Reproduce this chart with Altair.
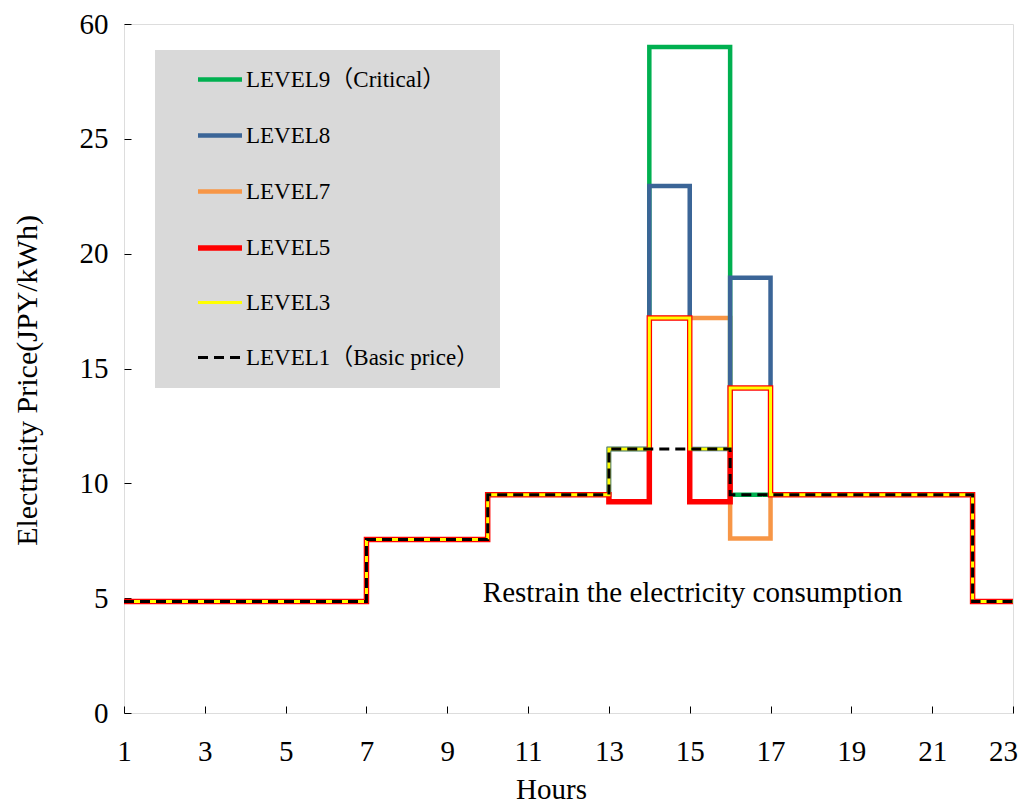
import altair as alt
import pandas as pd

# ---- data -------------------------------------------------------------
hours = [1, 2, 3, 4, 5, 6, 7, 8, 9, 10, 11, 12, 13, 14, 15, 16, 17, 18, 19, 20, 21, 22, 23]

level9 = [4.85, 4.85, 4.85, 4.85, 4.85, 4.85, 7.55, 7.55, 7.55, 9.5, 9.5, 9.5,
          11.5, 29.0, 29.0, 9.5, 9.5, 9.5, 9.5, 9.5, 9.5, 4.85, 4.85]
level8 = [4.85, 4.85, 4.85, 4.85, 4.85, 4.85, 7.55, 7.55, 7.55, 9.5, 9.5, 9.5,
          11.5, 22.95, 11.5, 18.95, 9.5, 9.5, 9.5, 9.5, 9.5, 4.85, 4.85]
level7 = [4.85, 4.85, 4.85, 4.85, 4.85, 4.85, 7.55, 7.55, 7.55, 9.5, 9.5, 9.5,
          11.5, 17.2, 17.2, 7.6, 9.5, 9.5, 9.5, 9.5, 9.5, 4.85, 4.85]
level5 = [4.85, 4.85, 4.85, 4.85, 4.85, 4.85, 7.55, 7.55, 7.55, 9.5, 9.5, 9.5,
          9.2, 17.2, 9.2, 14.15, 9.5, 9.5, 9.5, 9.5, 9.5, 4.85, 4.85]
level3 = [4.85, 4.85, 4.85, 4.85, 4.85, 4.85, 7.55, 7.55, 7.55, 9.5, 9.5, 9.5,
          11.5, 17.2, 11.5, 14.15, 9.5, 9.5, 9.5, 9.5, 9.5, 4.85, 4.85]
level1 = [4.85, 4.85, 4.85, 4.85, 4.85, 4.85, 7.55, 7.55, 7.55, 9.5, 9.5, 9.5,
          11.5, 11.5, 11.5, 9.5, 9.5, 9.5, 9.5, 9.5, 9.5, 4.85, 4.85]

levels = ["LEVEL9（Critical）", "LEVEL8", "LEVEL7", "LEVEL5", "LEVEL3", "LEVEL1（Basic price）"]
series = [level9, level8, level7, level5, level3, level1]
colors = ["#00B050", "#3B6597", "#F79646", "#FF0000", "#FFFF00", "#000000"]
dashes = [[1, 0], [1, 0], [1, 0], [1, 0], [1, 0], [10, 6]]
widths = [4.5, 4.5, 4.5, 5.5, 3, 3]
draw_order = ["LEVEL7", "LEVEL9（Critical）", "LEVEL8", "LEVEL5", "LEVEL3", "LEVEL1（Basic price）"]

x_ticks = [1, 3, 5, 7, 9, 11, 13, 15, 17, 19, 21, 23]
y_ticks = [0, 5, 10, 15, 20, 25, 30]

note_text = ["Restrain the electricity consumption"]
note_hour = [9.88]
note_price = [4.83]

rows = []
for name, vals in zip(levels, series):
    for h, v in zip(hours, vals):
        rows.append({"hour": h, "price": v, "level": name})
df = pd.DataFrame(rows)

FONT = "Liberation Serif, Times New Roman, Noto Sans CJK JP, serif"

# ---- scales / axes ----------------------------------------------------
xs = alt.Scale(domain=[1, 23], nice=False, zero=False)
ys = alt.Scale(domain=[0, 30], nice=False)

xaxis = alt.Axis(values=x_ticks, title="Hours", grid=False, domain=False,
                 labelFont=FONT, labelFontSize=29, labelColor="black",
                 labelFlush=False, labelPadding=31,
                 labelOffset={"condition": {"test": "datum.value == 23", "value": -10}, "value": 0},
                 tickColor="black", tickWidth=1, tickSize={"expr": "-7"},
                 titleFont=FONT, titleFontSize=29, titleFontWeight="normal",
                 titleColor="black", titleX=427, titleY=76, titleBaseline="middle")
yaxis = alt.Axis(values=y_ticks, title="Electricity Price(JPY/kWh)", grid=False,
                 domain=False, labelExpr="datum.value == 30 ? '60' : datum.label",
                 labelFont=FONT, labelFontSize=29, labelColor="black",
                 labelFlush=False, labelPadding=23,
                 tickColor="black", tickWidth=1, tickSize={"expr": "-7"},
                 titleFont=FONT, titleFontSize=30, titleFontWeight="normal",
                 titleColor="black", titleX=-97, titleY=356, titleAngle=-90,
                 titleAlign="center", titleBaseline="middle")

legend = alt.Legend(title=None, orient="none", legendX=71, legendY=31,
                    symbolType="stroke", symbolSize=1936, labelFont=FONT,
                    labelFontSize=23, labelColor="black", rowPadding=19,
                    labelOffset=1, padding=0, labelLimit=400)

color_scale = alt.Scale(domain=levels, range=colors)
dash_scale = alt.Scale(domain=levels, range=dashes)
width_scale = alt.Scale(type="ordinal", domain=levels, range=widths)

# ---- legend background box -------------------------------------------
box = alt.Chart(pd.DataFrame({"a": [0]})).mark_rect(color="#D9D9D9").encode(
    x=alt.value(31), x2=alt.value(376), y=alt.value(26), y2=alt.value(364))


def level_layer(name):
    return alt.Chart(df).transform_filter(alt.datum.level == name).mark_line(
        interpolate="step-after").encode(
        x=alt.X("hour:Q", scale=xs, axis=xaxis),
        y=alt.Y("price:Q", scale=ys, axis=yaxis),
        color=alt.Color("level:N", scale=color_scale, legend=legend),
        strokeDash=alt.StrokeDash("level:N", scale=dash_scale, legend=legend),
        strokeWidth=alt.StrokeWidth("level:N", scale=width_scale, legend=legend),
    )


lines = [level_layer(n) for n in draw_order]

note = alt.Chart(pd.DataFrame({"hour": note_hour, "price": note_price, "t": note_text})).mark_text(
    align="left", baseline="alphabetic", font=FONT, fontSize=29, color="black").encode(
    x=alt.X("hour:Q", scale=xs), y=alt.Y("price:Q", scale=ys), text="t:N")

chart = alt.layer(box, *lines, note).properties(
    width=889, height=689,
    autosize=alt.AutoSizeParams(type="none"),
    padding={"left": 116, "top": 16, "right": 6, "bottom": 91},
).configure_view(stroke="black", strokeWidth=2).configure(background="white")

chart.save("out.html", embed_options={"renderer": "svg", "actions": False})
